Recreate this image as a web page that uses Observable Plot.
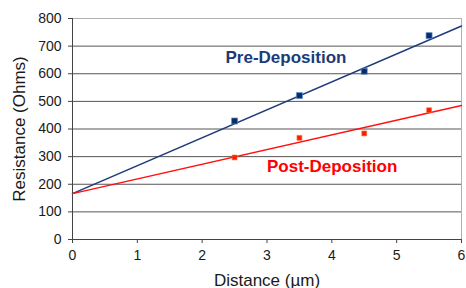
<!DOCTYPE html>
<html>
<head>
<meta charset="utf-8">
<script src="https://cdn.jsdelivr.net/npm/d3@7"></script>
<script src="https://cdn.jsdelivr.net/npm/@observablehq/plot@0.6"></script>
<style>
  html, body { margin: 0; padding: 0; background: #fff; }
  #chart svg { display: block; }
</style>
</head>
<body>
<div id="chart"></div>
<script>
// Measured distances (µm)
const distance = [2.5, 3.5, 4.5, 5.5];
// Resistance values (Ohms)
const preDeposition = [429, 521, 609, 738];
const postDeposition = [297, 368, 384, 468];
// Trend line endpoints
const trendX = [0, 6];
const preTrend = [166, 773];
const postTrend = [166, 485];
// Tick values
const xTicks = [0, 1, 2, 3, 4, 5, 6];
const yTicks = [0, 100, 200, 300, 400, 500, 600, 700, 800];
// Axis titles
const xTitle = "Distance (µm)";
const yTitle = "Resistance (Ohms)";
// Series labels
const seriesLabels = ["Pre-Deposition", "Post-Deposition"];
const labelX = [2.36, 3.0];
const labelY = [660, 263];

const preData = distance.map((d, i) => ({x: d, y: preDeposition[i]}));
const postData = distance.map((d, i) => ({x: d, y: postDeposition[i]}));
const preLine = trendX.map((d, i) => ({x: d, y: preTrend[i]}));
const postLine = trendX.map((d, i) => ({x: d, y: postTrend[i]}));
const labels = seriesLabels.map((t, i) => ({t, x: labelX[i], y: labelY[i]}));

const chart = Plot.plot({
  width: 466,
  height: 288,
  marginLeft: 72,
  marginRight: 5,
  marginTop: 18,
  marginBottom: 49,
  style: {fontFamily: "'Liberation Sans', Arial, sans-serif", fontSize: "14px", color: "#1a1a1a", background: "#fff"},
  x: {domain: [0, 6]},
  y: {domain: [0, 800]},
  marks: [
    Plot.gridY(yTicks.filter(d => d > 0 && d < 800), {stroke: "#555", strokeOpacity: 1, strokeWidth: 1}),
    Plot.ruleY([800], {stroke: "#b0b0b0", strokeWidth: 1}),
    Plot.ruleX([6], {stroke: "#b0b0b0", strokeWidth: 1}),
    Plot.ruleY([0], {stroke: "#444", strokeWidth: 1}),
    Plot.ruleX([0], {stroke: "#444", strokeWidth: 1}),
    Plot.axisX({ticks: xTicks, tickFormat: d3.format("d"), tickSize: 4, tickPadding: 7, fontSize: 14, label: null, stroke: "#444"}),
    Plot.axisY({ticks: yTicks, tickFormat: d3.format("d"), tickSize: 4, tickPadding: 7, fontSize: 14, label: null, stroke: "#444"}),
    Plot.axisX({ticks: [], tickSize: 0, fontSize: 17, label: xTitle, labelAnchor: "center", labelArrow: "none", labelOffset: 46}),
    Plot.axisY({ticks: [], tickSize: 0, fontSize: 17, label: yTitle, labelAnchor: "center", labelArrow: "none", labelOffset: 60}),
    Plot.line(preLine, {x: "x", y: "y", stroke: "#1f3c7c", strokeWidth: 1.5}),
    Plot.line(postLine, {x: "x", y: "y", stroke: "#ff1010", strokeWidth: 1.5}),
    Plot.dot(preData, {x: "x", y: "y", symbol: "square", r: 3.4, fill: "#0a2d68", stroke: "#5b8fd0", strokeWidth: 0.7}),
    Plot.dot(postData, {x: "x", y: "y", symbol: "square", r: 2.8, fill: "#ff1a00", stroke: "#ff7a40", strokeWidth: 0.6}),
    Plot.text(labels, {x: "x", y: "y", text: "t", textAnchor: "start", lineAnchor: "middle", fontSize: 17, fontWeight: "bold", fill: (d, i) => i === 0 ? "#1c3a78" : "#ff0000"})
  ]
});
document.getElementById("chart").appendChild(chart);
</script>
</body>
</html>
